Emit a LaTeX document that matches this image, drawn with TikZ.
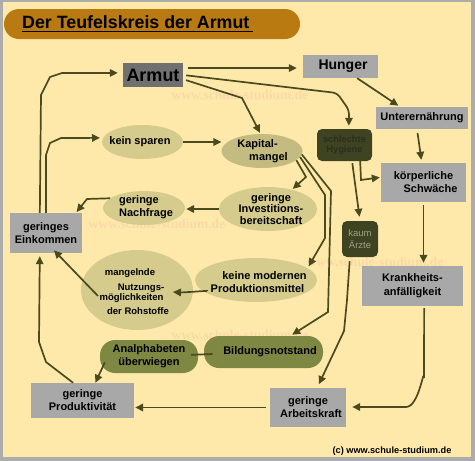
\documentclass[tikz,border=0pt]{standalone}
\usepackage{fontspec}
\setmainfont{Liberation Sans}
\newfontfamily\wmfont{Liberation Serif}
\usetikzlibrary{arrows.meta,shapes.geometric}

\definecolor{bgy}{RGB}{255,233,170}
\definecolor{framec}{RGB}{172,172,172}
\definecolor{titlebar}{RGB}{185,122,18}
\definecolor{boxgrey}{RGB}{168,168,168}
\definecolor{armutgrey}{RGB}{112,112,112}
\definecolor{khaki}{RGB}{213,203,140}
\definecolor{olivec}{RGB}{126,136,66}
\definecolor{darkolive}{RGB}{62,67,33}
\definecolor{linec}{RGB}{75,74,30}
\definecolor{wm}{RGB}{250,216,168}
\definecolor{hygtext}{RGB}{45,46,30}
\definecolor{kaumtext}{RGB}{160,160,140}

\begin{document}
\begin{tikzpicture}[x=1pt,y=-1pt,
  lbl/.style={font=\fontsize{11}{13}\selectfont\bfseries, align=center, text=black, inner sep=0pt},
  gbox/.style={lbl, rectangle, fill=boxgrey},
  ell/.style={ellipse, fill=khaki, inner sep=0pt},
  pill/.style={rectangle, rounded corners=15pt, fill=olivec, inner sep=0pt},
  dbox/.style={rectangle, rounded corners=5pt, fill=darkolive, inner sep=0pt, align=center},
  smalltxt/.style={font=\fontsize{9.5}{10}\selectfont\bfseries, inner sep=0pt},
  con/.style={draw=linec, line width=1.7pt},
  arr/.style={con, -{Triangle[length=8pt,width=7.5pt]}},
  wmark/.style={font=\wmfont\fontsize{13.5}{14}\selectfont\bfseries, text=wm, inner sep=0pt},
]
% background
\fill[framec] (0,0) rectangle (475,461);
\fill[bgy] (3,2) rectangle (471,457);
\useasboundingbox (0,0) rectangle (475,461);

% watermarks
\node[wmark] (wm1) at (240,95) {www.schule-studium.de};
\node[wmark] (wm2) at (157,224) {www.schule-studium.de};
\node[wmark] (wm3) at (375,262) {www.schule-studium.de};
\node[wmark] (wm4) at (240,335) {www.schule-studium.de};

% title
\node[fill=titlebar, rounded corners=15pt, minimum width=296pt, minimum height=30pt, inner sep=0pt] (titlebar) at (152,24) {};
\node[anchor=base west, inner sep=0pt, font=\fontsize{17.8}{18}\selectfont\bfseries] (title) at (22,28) {Der Teufelskreis der Armut};
\draw[line width=1.5pt] ([yshift=-3.5pt]title.base west) -- ([yshift=-3.5pt,xshift=3pt]title.base east);

% boxes
\node[gbox, fill=armutgrey, minimum width=60pt, minimum height=24pt, font=\fontsize{18}{20}\selectfont\bfseries] (armut) at (153,75) {Armut};
\node[gbox, minimum width=75pt, minimum height=23pt, font=\fontsize{14}{16}\selectfont\bfseries] (hunger) at (340.5,66.5) {\hspace*{5pt}Hunger};
\node[gbox, minimum width=92pt, minimum height=22pt] (unter) at (422,118) {Unterernährung};
\node[dbox, minimum width=55pt, minimum height=32pt, font=\fontsize{9.3}{10.5}\selectfont\bfseries, text=hygtext] (hyg) at (344.5,145) {schlechte\\Hygiene};
\node[dbox, minimum width=36pt, minimum height=36pt, font=\fontsize{9.5}{12}\selectfont, text=kaumtext] (kaum) at (360,239) {kaum\\Ärzte};
\node[gbox, minimum width=85pt, minimum height=39pt] (koerp) at (423.5,182.5) {körperliche\\\hspace*{14pt}Schwäche};
\node[gbox, minimum width=101pt, minimum height=40pt, font=\fontsize{11}{14}\selectfont\bfseries] (krank) at (412.5,286) {Krankheits-\\anfälligkeit};
\node[gbox, minimum width=76pt, minimum height=39pt] (arbeit) at (308,407.5) {geringe\\\hspace*{6pt}Arbeitskraft};
\node[gbox, minimum width=103pt, minimum height=35pt] (produkt) at (82.5,400.5) {geringe\\Produktivität};
\node[gbox, minimum width=72pt, minimum height=40pt] (eink) at (46,233) {geringes\\Einkommen};

% ellipses
\node[ell, minimum width=81pt, minimum height=34pt] (sparen) at (142.5,142) {};
\node[lbl] (sparenT) at (140,142) {kein sparen};
\node[ell, minimum width=81pt, minimum height=34pt, fill=khaki!92!black] (kapital) at (262,151) {};
\node[lbl] (kapitalT) at (263,151) {Kapital-\hspace*{11pt}\\\hspace*{11pt}mangel};
\node[ell, minimum width=98pt, minimum height=44pt] (invest) at (268,209) {};
\node[lbl, font=\fontsize{11}{11.5}\selectfont\bfseries] (investT) at (271,209) {geringe\\Investitions-\\bereitschaft};
\node[ell, minimum width=82pt, minimum height=34pt] (nachfrage) at (144,208) {};
\node[lbl, align=left] (nachfrageT) at (146,207) {geringe\\Nachfrage};
\node[ell, minimum width=122pt, minimum height=44pt] (prodmittel) at (256,280) {};
\node[lbl] (prodmittelT) at (261,282.5) {\hspace*{7pt}keine modernen\\Produktionsmittel\hspace*{7pt}};
\node[ell, minimum width=112pt, minimum height=80pt] (rohstoff) at (137,290) {};
\node[smalltxt] (roh1) at (130,273) {mangelnde};
\node[smalltxt] (roh2) at (141,288.5) {Nutzungs-};
\node[smalltxt] (roh3) at (131.5,298) {möglichkeiten};
\node[smalltxt] (roh4) at (138,311) {der Rohstoffe};

% pills
\node[pill, minimum width=119pt, minimum height=32pt] (bildung) at (263.5,352) {};
\node[lbl] (bildungT) at (270,352) {Bildungsnotstand};
\node[pill, minimum width=98pt, minimum height=33pt] (analph) at (149,356.5) {};
\node[lbl] (analphT) at (149,356.5) {Analphabeten\\überwiegen};

% copyright
\node[inner sep=0pt, font=\fontsize{9.2}{10}\selectfont\bfseries] (copy) at (392,451) {(c) www.schule-studium.de};

% connectors
\draw[arr, shorten <=5pt, shorten >=6pt] (armut.13) -- (armut.13 -| hunger.west);
\draw[arr, rounded corners=4pt, shorten <=3pt, shorten >=3pt] (armut.east) -- (337,93) -- (349,110) -- (hyg.75);
\draw[arr, shorten <=3pt, shorten >=1pt] (armut.-8) -- (242,98) -- (kapital.95);
\draw[arr, shorten >=2pt] (hunger.-35) -- (unter.153);
\draw[arr, shorten <=4pt, shorten >=3pt] (unter.-114) -- (koerp.95);
\draw[arr, shorten >=1pt] (hyg.-46) -- (361,180) -- (koerp.173);
\draw[arr, shorten <=2pt, shorten >=4pt] (hyg.-65) -- (kaum.north);
\draw[arr, shorten <=3pt, shorten >=3pt] (koerp.south) -- (koerp.south |- krank.north);
\draw[arr, shorten <=2pt, shorten >=6pt] (krank.-60) -- (424,378) to[out=90,in=0] (406,407) -- (arbeit.east |- 406,407);
\draw[arr, shorten <=4pt, shorten >=4pt] (kaum.-119) -- (347,300) -- (344,331) -- (arbeit.65);
% from Kapitalmangel
\draw[arr, shorten >=1pt] (kapital.-15) -- (306,177) -- (invest.39);
\draw[arr, shorten >=2pt] (kapital.-9) -- (325,195) -- (325,238) -- (prodmittel.13);
\draw[arr, shorten >=2pt] (kapital.-5) -- (331,191) -- (328,312) -- (bildung.31);
\draw[arr, shorten >=1pt] (invest.west) -- (invest.west -| nachfrage.east);
\draw[arr, shorten >=1pt] (nachfrage.164) -- (87,199) -- (eink.34);
\draw[arr, shorten >=2pt] (sparen.east) -- (sparen.east -| kapital.188);
% from Einkommen upwards
\draw[arr, shorten >=5pt] (eink.107) -- (41,95) -- (50,77) -- (62,73) -- (armut.176);
\draw[arr, shorten >=3pt] (eink.north) -- (46,155) -- (50,143) -- (61,138) -- (sparen.174);
\coordinate (rohstart) at (98,296);
\draw[arr, shorten >=-4pt] (rohstart) -- (eink.-62);
\draw[arr, shorten >=3pt] (produkt.118) -- (46,362) -- (39,342) -- (eink.-107);
\draw[con, shorten <=51pt, shorten >=42pt] (bildung.center) -- (analph.center);
\draw[arr, shorten <=-12pt] (analph.south west) -- (produkt.54);
\draw[arr, shorten <=4pt, shorten >=1pt] (arbeit.west) -- (arbeit.west -| produkt.east);
\draw[arr, shorten <=50pt, shorten >=36pt] (prodmittel.center) to[bend left=8] (rohstoff.center);
\end{tikzpicture}
\end{document}
